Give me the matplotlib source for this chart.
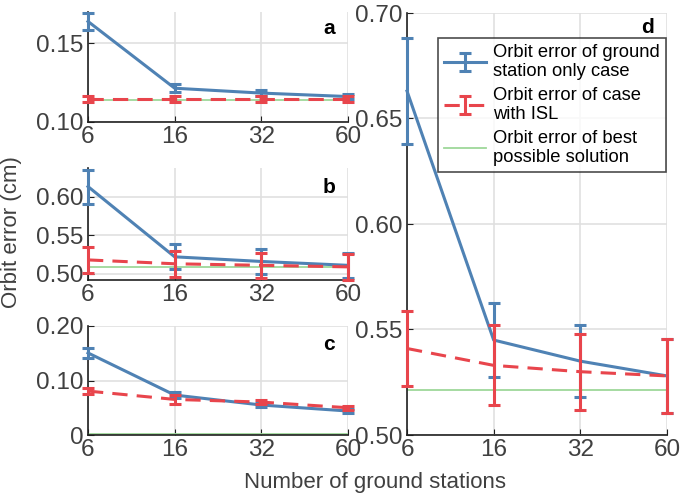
import matplotlib
matplotlib.use("Agg")
import matplotlib.pyplot as plt

plt.rcParams['font.family'] = ['Liberation Sans', 'DejaVu Sans']

stations = ['6', '16', '32', '60']

# Panel a
a_gs = [0.164, 0.1215, 0.1184, 0.1162]
a_gs_err = [0.0055, 0.0025, 0.002, 0.0015]
a_isl = [0.1146, 0.1146, 0.1146, 0.1146]
a_isl_err = [0.0018, 0.0018, 0.0018, 0.0018]
a_best = 0.1142

# Panel b
b_gs = [0.613, 0.522, 0.516, 0.511]
b_gs_err = [0.022, 0.016, 0.016, 0.016]
b_isl = [0.518, 0.513, 0.511, 0.509]
b_isl_err = [0.0165, 0.0167, 0.016, 0.017]
b_best = 0.5087

# Panel c
c_gs = [0.1506, 0.0733, 0.055, 0.044]
c_gs_err = [0.0098, 0.005, 0.003, 0.003]
c_isl = [0.0806, 0.0653, 0.0604, 0.050]
c_isl_err = [0.005, 0.008, 0.004, 0.004]
c_best = 0.002

# Panel d
d_gs = [0.663, 0.545, 0.535, 0.528]
d_gs_err = [0.025, 0.0175, 0.017, 0.0175]
d_isl = [0.541, 0.533, 0.530, 0.528]
d_isl_err = [0.018, 0.019, 0.018, 0.0175]
d_best = 0.5213

BLUE = '#4f82b4'
RED = '#e8454c'
GREEN = '#9ed89a'
TXT = '#404040'

W, H = 685, 498
fig = plt.figure(figsize=(W / 100, H / 100), dpi=100)

def px_axes(x0, y0, x1, y1):
    return fig.add_axes([x0 / W, 1 - y1 / H, (x1 - x0) / W, (y1 - y0) / H])

panels = [
    (px_axes(88, 12, 348, 122), a_gs, a_gs_err, a_isl, a_isl_err, a_best,
     (0.10, 0.17), [0.10, 0.15], ['0.10', '0.15'], 'a', 0.85),
    (px_axes(88, 168, 348, 280), b_gs, b_gs_err, b_isl, b_isl_err, b_best,
     (0.492, 0.637), [0.50, 0.55, 0.60], ['0.50', '0.55', '0.60'], 'b', 0.83),
    (px_axes(88, 326, 348, 435), c_gs, c_gs_err, c_isl, c_isl_err, c_best,
     (0.0, 0.20), [0.0, 0.10, 0.20], ['0', '0.10', '0.20'], 'c', 0.83),
    (px_axes(407, 13, 667, 435), d_gs, d_gs_err, d_isl, d_isl_err, d_best,
     (0.50, 0.70), [0.50, 0.55, 0.60, 0.65, 0.70], ['0.50', '0.55', '0.60', '0.65', '0.70'], 'd', 0.965),
]

def unclip(container):
    line, caps, bars = container.lines
    if line is not None:
        line.set_clip_on(False)
    for c in caps:
        c.set_clip_on(False)
    for b in bars:
        b.set_clip_on(False)

x = list(range(len(stations)))
handles = None
for ax, gs, gse, isl, isle, best, ylim, yt, ytl, lab, ly in panels:
    h1 = ax.errorbar(x, gs, yerr=gse, color=BLUE, lw=2.2, capsize=4, capthick=2.2,
                     elinewidth=2.2, label='Orbit error of ground\nstation only case', zorder=3)
    h2 = ax.errorbar(x, isl, yerr=isle, color=RED, lw=2.2, capsize=4, capthick=2.2,
                     elinewidth=2.2, ls=(0, (5, 3)), label='Orbit error of case\nwith ISL', zorder=4)
    unclip(h1)
    unclip(h2)
    h3, = ax.plot([x[0], x[-1]], [best, best], color=GREEN, lw=1.3,
                  label='Orbit error of best\npossible solution', zorder=2)
    handles = [h1, h2, h3]
    ax.set_xlim(x[0], x[-1])
    ax.set_ylim(*ylim)
    ax.set_xticks(x)
    ax.set_xticklabels(stations)
    ax.set_yticks(yt)
    ax.set_yticklabels(ytl)
    ax.grid(True, color='#e0e0e0', lw=1.2)
    ax.set_axisbelow(True)
    for s in ['top', 'right']:
        ax.spines[s].set_visible(False)
    for s in ['left', 'bottom']:
        ax.spines[s].set_color('#202020')
        ax.spines[s].set_linewidth(1.2)
    ax.tick_params(labelsize=17.5, colors=TXT, length=4, direction='in', pad=3)
    ax.tick_params(axis='both', color='#202020')
    ax.text(0.95, ly, lab, transform=ax.transAxes, fontsize=15,
            fontweight='bold', ha='right', va='center', color='black')

axd = panels[3][0]
leg = axd.legend(handles=handles, loc='upper right', bbox_to_anchor=(0.995, 0.94),
                 fontsize=13.2, frameon=True, fancybox=False, edgecolor='#202020',
                 handlelength=2.3, handletextpad=0.4, borderpad=0.3, labelspacing=0.35,
                 borderaxespad=0)
leg.get_frame().set_linewidth(1.2)
for t in leg.get_texts():
    t.set_color('black')

fig.text(12 / W, 1 - 232 / H, 'Orbit error (cm)', rotation=90, fontsize=16,
         color=TXT, ha='center', va='center')
fig.text(375 / W, 1 - 482 / H, 'Number of ground stations', fontsize=16,
         color=TXT, ha='center', va='center')

fig.savefig('out.png', dpi=100)
